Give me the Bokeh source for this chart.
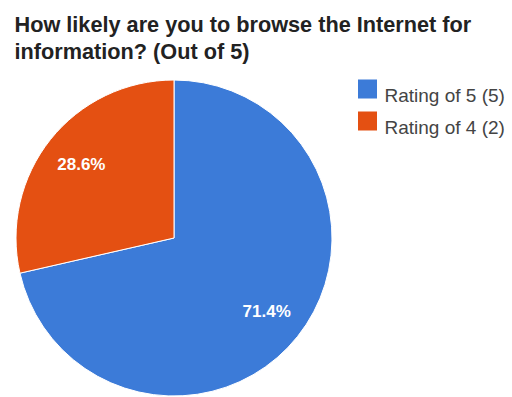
import math
from bokeh.plotting import figure
from bokeh.models import Range1d, ColumnDataSource
from bokeh.core.properties import value
from bokeh.embed import file_html
from bokeh.resources import INLINE

title_lines = ["How likely are you to browse the Internet for", "information? (Out of 5)"]
categories = ["Rating of 5 (5)", "Rating of 4 (2)"]
counts = [5, 2]
colors = ["#3c7bd8", "#e45012"]

W, H = 512, 397
p = figure(width=W, height=H, output_backend="svg", toolbar_location=None,
           x_range=Range1d(0, W), y_range=Range1d(0, H), min_border=0)
p.axis.visible = False
p.grid.visible = False
p.outline_line_color = None
p.background_fill_color = "white"
p.border_fill_color = "white"

cx, cy, r = 173.5, H - 237.5, 158
total = sum(counts)
fracs = [c / total for c in counts]
starts, ends, lx, ly, labels = [], [], [], [], []
cum = 0.0
for f in fracs:
    s = math.pi / 2 - 2 * math.pi * cum
    e = math.pi / 2 - 2 * math.pi * (cum + f)
    starts.append(s)
    ends.append(e)
    mid = (s + e) / 2
    lx.append(cx + 0.75 * r * math.cos(mid))
    ly.append(cy + 0.75 * r * math.sin(mid))
    labels.append(f"{f*100:.1f}%")
    cum += f

src = ColumnDataSource(dict(start=starts, end=ends, color=colors))
p.wedge(x=cx, y=cy, radius=r, start_angle="start", end_angle="end", direction="clock",
        fill_color="color", line_color="white", line_width=1, source=src)

p.text(x=lx, y=ly, text=labels, text_color="white", text_font=value("Liberation Sans"),
       text_font_size="17px", text_font_style="bold", text_align="center", text_baseline="middle")

# title
p.text(x=[14, 14], y=[H - 24, H - 51], text=title_lines, text_color="#222222",
       text_font=value("Liberation Sans"), text_font_size="21.7px", text_font_style="bold",
       text_align="left", text_baseline="alphabetic")

# legend
leg_y = [H - 88.5 - 32 * i for i in range(len(categories))]
p.rect(x=[367] * len(categories), y=leg_y, width=19, height=19, fill_color=colors, line_color=None)
p.text(x=[384] * len(categories), y=[y - 6.5 for y in leg_y], text=categories, text_color="#444444",
       text_font=value("Liberation Sans"), text_font_size="19px",
       text_align="left", text_baseline="alphabetic")

open("out.html", "w").write(file_html(p, INLINE))
